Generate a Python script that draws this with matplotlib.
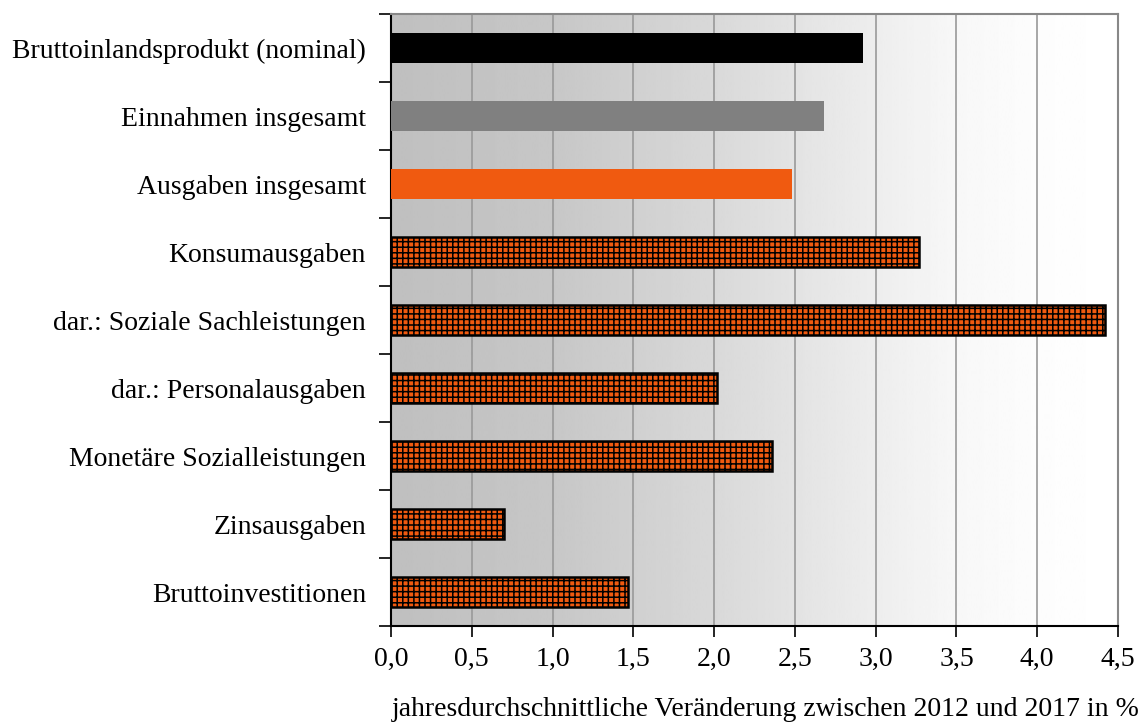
import numpy as np
import matplotlib.pyplot as plt
from matplotlib.ticker import FixedLocator, FuncFormatter

plt.rcParams['font.family'] = ['Liberation Serif', 'DejaVu Serif']
plt.rcParams['hatch.linewidth'] = 1.1

# Daten
labels = ["Bruttoinlandsprodukt (nominal)", "Einnahmen insgesamt", "Ausgaben insgesamt",
          "Konsumausgaben", "dar.: Soziale Sachleistungen", "dar.: Personalausgaben",
          "Monetäre Sozialleistungen", "Zinsausgaben", "Bruttoinvestitionen"]
values = [2.92, 2.68, 2.48, 3.27, 4.42, 2.02, 2.36, 0.70, 1.47]
colors = ["#000000", "#808080", "#F05A10"] + ["#F05A10"] * 6
hatches = [None, None, None] + ["+++"] * 6
xticks = [0.0, 0.5, 1.0, 1.5, 2.0, 2.5, 3.0, 3.5, 4.0, 4.5]

fig = plt.figure(figsize=(11.44, 7.26), dpi=100)
ax = fig.add_axes([391 / 1144, 1 - 626 / 726, (1118 - 391) / 1144, (626 - 14) / 726])

n = len(labels)
y = np.arange(n)[::-1]

# Hintergrund-Verlauf (grau links -> weiss rechts)
gx = np.linspace(0, 4.5, 512)
gv = np.interp(gx, [0, 1.0, 2.0, 3.0, 3.5, 4.0, 4.5],
               [0.75, 0.78, 0.85, 0.93, 0.97, 0.99, 1.0])
ax.imshow(gv.reshape(1, -1), cmap='gray', vmin=0, vmax=1, aspect='auto',
          extent=[0, 4.5, -0.5, n - 0.5], zorder=0, interpolation='bilinear')

for yi, v, c, h in zip(y, values, colors, hatches):
    ax.barh(yi, v, height=0.43, color=c, edgecolor='black', linewidth=1.8 if h else 0,
            hatch=h, zorder=3)

ax.set_xlim(0, 4.5)
ax.set_ylim(-0.5, n - 0.5)
ax.set_xticks(xticks)
ax.xaxis.set_major_formatter(FuncFormatter(lambda v, p: f"{v:.1f}".replace('.', ',')))
ax.set_yticks(y)
ax.set_yticklabels(labels)
ax.yaxis.set_minor_locator(FixedLocator(np.arange(-0.5, n, 1.0)))
ax.tick_params(axis='y', which='major', length=0, labelsize=20, pad=18)
ax.tick_params(axis='y', which='minor', length=9, width=1.2)
ax.tick_params(axis='x', length=8, width=1.2, labelsize=20, pad=7)

ax.grid(axis='x', color='#999999', linewidth=1.2, zorder=1)
ax.set_axisbelow(True)
for s in ['top', 'right']:
    ax.spines[s].set_color('#888888')
    ax.spines[s].set_linewidth(1.5)
for s in ['left', 'bottom']:
    ax.spines[s].set_linewidth(1.5)

fig.text(1140 / 1144, 1 - 710 / 726, "jahresdurchschnittliche Veränderung zwischen 2012 und 2017 in %",
         ha='right', va='center', fontsize=20)

fig.savefig("out.png", dpi=100)
